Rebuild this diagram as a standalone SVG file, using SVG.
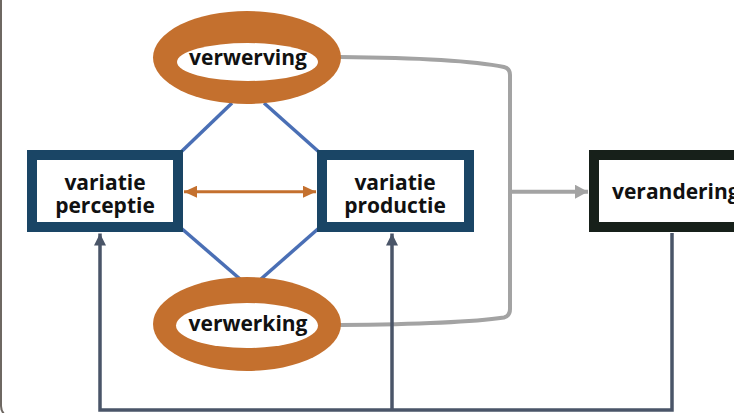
<svg xmlns="http://www.w3.org/2000/svg" width="734" height="413" viewBox="0 0 734 413">
<style>
  .lbl { font-family: "Open Sans", "Noto Sans", "Liberation Sans", sans-serif; font-weight: 700; font-size: 21px; fill: #111; text-anchor: middle; }
  .ring { fill: #c4702e; }
  .hole { fill: #fff; }
  .vbox { fill: #fff; stroke: #1a4565; stroke-width: 10; }
  .dbox { fill: #fff; stroke: #17201a; stroke-width: 10; }
  .blue { stroke: #4a6fb5; stroke-width: 3.5; fill: none; }
  .gray { stroke: #a3a3a3; stroke-width: 4; fill: none; }
  .fb { stroke: #4a5568; stroke-width: 3.5; fill: none; }
  .orange { stroke: #c4702e; stroke-width: 3; fill: none; }
</style>
<defs>
  <marker id="ahGray" viewBox="0 0 13 14" refX="13" refY="7" markerWidth="13" markerHeight="14" markerUnits="userSpaceOnUse" orient="auto">
    <path d="M0,0 L13,7 L0,14 Z" fill="#a3a3a3"/>
  </marker>
  <marker id="ahOrange" viewBox="0 0 13 12" refX="13" refY="6" markerWidth="13" markerHeight="12" markerUnits="userSpaceOnUse" orient="auto-start-reverse">
    <path d="M0,0 L13,6 L0,12 Z" fill="#c4702e"/>
  </marker>
  <marker id="ahFb" viewBox="0 0 12 12" refX="12" refY="6" markerWidth="12" markerHeight="12" markerUnits="userSpaceOnUse" orient="auto">
    <path d="M0,0 L12,6 L0,12 Z" fill="#4a5568"/>
  </marker>
</defs>
<rect x="0" y="0" width="734" height="413" fill="#fff"/>
<rect x="1" y="-20" width="780" height="438" rx="12" fill="none" stroke="#6e6862" stroke-width="2"/>

<g id="connectors">
  <line class="blue" x1="232" y1="103" x2="181" y2="152"/>
  <line class="blue" x1="264" y1="103" x2="319" y2="152"/>
  <line class="blue" x1="181" y1="228" x2="240" y2="279"/>
  <line class="blue" x1="319" y1="228" x2="261" y2="279"/>
  <path class="gray" d="M340,57 Q460,58 504,67 Q510,68.5 510,75 V309 Q510,316 504,317.5 Q460,324 340,325"/>
  <line class="gray" x1="510" y1="191.7" x2="588" y2="191.7" marker-end="url(#ahGray)"/>
  <line class="orange" x1="184" y1="191.7" x2="316" y2="191.7" marker-start="url(#ahOrange)" marker-end="url(#ahOrange)"/>
  <path class="fb" d="M672,233 V410 H100 V233.5" marker-end="url(#ahFb)"/>
  <path class="fb" d="M392,410 V233.5" marker-end="url(#ahFb)"/>
</g>

<g id="verwerving">
  <ellipse class="ring" cx="247" cy="57.5" rx="94" ry="46.5"/>
  <ellipse class="hole" cx="247.5" cy="62" rx="70.5" ry="19"/>
  <text class="lbl" x="248" y="64.5">verwerving</text>
</g>

<g id="verwerking">
  <ellipse class="ring" cx="247" cy="324" rx="94" ry="47"/>
  <ellipse class="hole" cx="247" cy="325.5" rx="71" ry="22.5"/>
  <text class="lbl" x="248" y="331">verwerking</text>
</g>

<g id="variatie-perceptie">
  <rect class="vbox" x="32" y="155" width="146" height="72"/>
  <text class="lbl" x="105" y="190">variatie</text>
  <text class="lbl" x="105" y="213">perceptie</text>
</g>

<g id="variatie-productie">
  <rect class="vbox" x="322" y="155" width="147" height="72"/>
  <text class="lbl" x="395" y="190">variatie</text>
  <text class="lbl" x="395" y="213">productie</text>
</g>

<g id="verandering">
  <rect class="dbox" x="594" y="155" width="200" height="72"/>
  <text class="lbl" x="612" y="199" style="text-anchor:start">verandering</text>
</g>
</svg>
